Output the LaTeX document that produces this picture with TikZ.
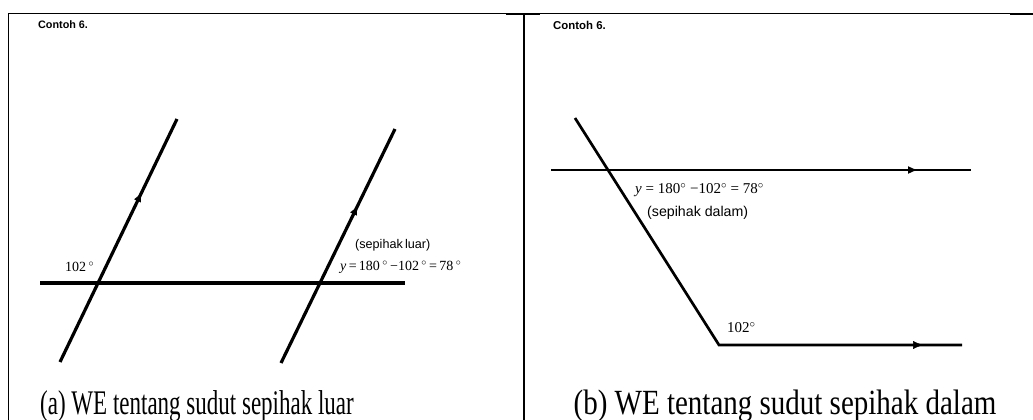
\documentclass[tikz,border=0pt]{standalone}
\usepackage{fontspec}
\setmainfont{Liberation Serif}
\newfontfamily\arialf{Liberation Sans}
\usetikzlibrary{decorations.markings,arrows.meta}
\newcommand{\dg}{\textsuperscript{$\circ$}}
\tikzset{
  frame/.style={line width=1.6pt},
  geo/.style={line width=3.2pt},
  geob/.style={line width=2.7pt},
  midarrow/.style={postaction={decorate},decoration={markings,mark=at position #1 with {\arrow{Latex[length=10pt,width=8pt]}}}},
  title/.style={anchor=west,inner sep=0pt,font=\arialf\bfseries\fontsize{10.8}{12}\selectfont},
  titleb/.style={anchor=west,inner sep=0pt,font=\arialf\bfseries\fontsize{11.4}{12}\selectfont},
  captiona/.style={inner sep=0pt,anchor=base,font=\fontsize{23}{26}\selectfont},
  captionb/.style={inner sep=0pt,anchor=base,font=\fontsize{29}{32}\selectfont},
  anga/.style={inner sep=0pt,font=\fontsize{14}{16}\selectfont},
  angb/.style={inner sep=0pt,font=\fontsize{15}{17}\selectfont},
  notea/.style={inner sep=0pt,font=\arialf\fontsize{12.6}{14}\selectfont},
  noteb/.style={inner sep=0pt,font=\arialf\fontsize{14.2}{16}\selectfont},
}
\begin{document}
\begin{tikzpicture}[x=1pt,y=-1pt]
\useasboundingbox (0,0) rectangle (1033,420);
% frame
\coordinate (ftl) at (8.5,13.5);
\coordinate (ftr) at (1033,13.5);
\coordinate (fbl) at (8.5,420);
\coordinate (fdt) at (524,13.5);
\coordinate (fdb) at (524,420);
\draw[frame] (fbl) -- (ftl) -- (ftr);
\draw[frame] (fdt) -- (fdb);
\draw[line width=2.2pt] (506,14) -- (540,14);
\draw[line width=2.2pt] (1010,14) -- (1033,14);

% titles
\node[title] (t1) at (38,25) {Contoh 6.};
\node[titleb] (t2) at (553,25) {Contoh 6.};

% ---- panel (a)
\coordinate (a1b) at (60,362);
\coordinate (a1t) at (177,119);
\coordinate (a2b) at (281,363);
\coordinate (a2t) at (395,129);
\coordinate (ahl) at (40,283);
\coordinate (ahr) at (405,283);
\draw[geo] (ahl) -- (ahr);
\draw[geo,midarrow=0.70] (a1b) -- (a1t);
\draw[geo,midarrow=0.675] (a2b) -- (a2t);
\node[anga,anchor=west] (a102) at (65,267) {102\,\dg};
\node[notea,anchor=west] (aluar) at (355,245) {(sepihak\hspace{0.18em}luar)};
\node[anga,anchor=west] (aeq) at (340,267) {\textit{y}\,=\,180\,\dg\,−102\,\dg\,=\,78\,\dg};
\node[captiona] (capa) at (197,414) {\scalebox{1}[1.5]{(a) WE tentang sudut sepihak luar}};

% ---- panel (b)
\coordinate (bst) at (575,118);
\coordinate (bc) at (719,345);
\coordinate (bbr) at (962,345);
\coordinate (bhl) at (551,170);
\coordinate (bhr) at (971,170);
\draw[geob,midarrow=0.874] (bhl) -- (bhr);
\draw[geob,line join=miter] (bst) -- (bc) -- (bbr);
\path[midarrow=0.84] (bc) -- (bbr);
\node[angb,anchor=west] (beq) at (635,190) {\textit{y} = 180\dg\ −102\dg\ = 78\dg};
\node[noteb,anchor=west] (bdalam) at (647,213) {(sepihak dalam)};
\node[angb,anchor=west] (b102) at (727,328) {102\dg};
\node[captionb] (capb) at (785,414) {\scalebox{1}[1.22]{(b) WE tentang sudut sepihak dalam}};
\end{tikzpicture}
\end{document}
